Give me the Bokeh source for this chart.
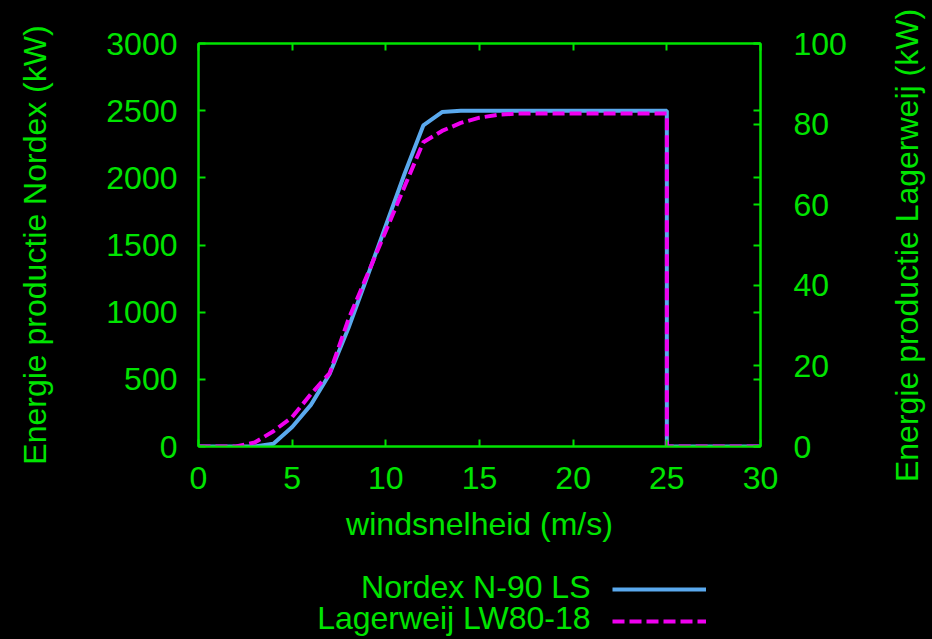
import math
from bokeh.plotting import figure
from bokeh.layouts import row, column
from bokeh.models import (Range1d, LinearAxis, FixedTicker, Legend, LegendItem, Label)
from bokeh.core.properties import value
from bokeh.embed import file_html
from bokeh.resources import INLINE

# ---- data ----
wind = [0, 1, 2, 3, 4, 5, 6, 7, 8, 9, 10, 11, 12, 13, 14, 15, 16, 17, 18, 19, 20,
        21, 22, 23, 24, 25, 25, 30]
nordex = [0, 0, 0, 0, 20, 145, 310, 540, 880, 1260, 1645, 2030, 2390, 2490, 2500,
          2500, 2500, 2500, 2500, 2500, 2500, 2500, 2500, 2500, 2500, 2500, 0, 0]
lagerweij = [0, 0, 0, 1.0, 3.8, 7.3, 13, 18.2, 31.5, 42.5, 53.5, 64.5, 75.5, 78.3,
             80.3, 81.6, 82.3, 82.6, 82.6, 82.6, 82.6, 82.6, 82.6, 82.6, 82.6, 82.6, 0, 0]

x_ticks = [0, 5, 10, 15, 20, 25, 30]
y_ticks = [0, 500, 1000, 1500, 2000, 2500, 3000]
y2_ticks = [0, 20, 40, 60, 80, 100]

series_names = ["Nordex N-90 LS", "Lagerweij LW80-18"]
x_title = "windsnelheid (m/s)"
y_title = "Energie productie Nordex (kW)"
y2_title = "Energie productie Lagerweij (kW)"

GREEN = "#00e400"
BLUE = "#5aa9ee"
MAGENTA = "#f000f0"
FONT = "Liberation Sans"
FS = "32px"

BLUE_STYLE = dict(line_color=BLUE, line_width=4)
MAG_STYLE = dict(line_color=MAGENTA, line_width=4, line_dash="12 5")

# ---------------- main plot ----------------
p = figure(width=880, height=556, output_backend="svg", toolbar_location=None,
           x_range=Range1d(0, 30), y_range=Range1d(0, 3000),
           min_border_left=198, min_border_right=120, min_border_top=43,
           min_border_bottom=110)
p.extra_y_ranges = {"y2": Range1d(0, 100)}
p.background_fill_color = "black"
p.border_fill_color = "black"
p.outline_line_color = GREEN
p.outline_line_width = 2
p.xgrid.visible = False
p.ygrid.visible = False


def style_axis(ax):
    ax.axis_line_color = GREEN
    ax.axis_line_width = 2
    ax.major_tick_line_color = GREEN
    ax.major_tick_line_width = 2
    ax.major_tick_in = 7
    ax.major_tick_out = 0
    ax.minor_tick_line_color = None
    ax.major_label_text_color = GREEN
    ax.major_label_text_font = FONT
    ax.major_label_text_font_size = FS
    ax.axis_label_text_color = GREEN
    ax.axis_label_text_font = FONT
    ax.axis_label_text_font_size = FS
    ax.axis_label_text_font_style = "normal"


xa = p.xaxis[0]
style_axis(xa)
xa.ticker = FixedTicker(ticks=x_ticks)
xa.axis_label = x_title
xa.major_label_standoff = 20
xa.axis_label_standoff = 14

ya = p.yaxis[0]
style_axis(ya)
ya.ticker = FixedTicker(ticks=y_ticks)
ya.axis_label = y_title
ya.major_label_standoff = 21
ya.axis_label_standoff = 50

# top axis: mirrored x ticks, labels not drawn
top = LinearAxis()
style_axis(top)
top.ticker = FixedTicker(ticks=x_ticks)
top.major_label_text_color = None
top.major_label_text_font_size = "1px"
top.major_label_standoff = 0
p.add_layout(top, "above")

# right axis: y2 ticks (labelled) plus mirrored y ticks as unlabelled minor ticks
mirror = [t / y_ticks[-1] * y2_ticks[-1] for t in y_ticks]
ra = LinearAxis(y_range_name="y2")
style_axis(ra)
ra.ticker = FixedTicker(ticks=y2_ticks, minor_ticks=mirror)
ra.minor_tick_line_color = GREEN
ra.minor_tick_line_width = 2
ra.minor_tick_in = 7
ra.minor_tick_out = 0
ra.major_label_standoff = 33
p.add_layout(ra, "right")

p.line(wind, nordex, **BLUE_STYLE)
p.line(wind, lagerweij, y_range_name="y2", **MAG_STYLE)


def blank_fig(w, h, **kw):
    f = figure(width=w, height=h, output_backend="svg", toolbar_location=None,
               x_axis_location=None, y_axis_location=None, min_border=0, **kw)
    f.background_fill_color = "black"
    f.border_fill_color = "black"
    f.outline_line_color = None
    f.xgrid.visible = False
    f.ygrid.visible = False
    if "frame_align" in f.properties():
        f.frame_align = False
    return f


# ---------------- right-axis title strip ----------------
p3 = blank_fig(52, 556)
p3.add_layout(Label(x=26, y=311, x_units="screen", y_units="screen", text=y2_title,
                    angle=math.pi / 2, text_align="center", text_baseline="middle",
                    text_color=GREEN, text_font=FONT, text_font_size=FS))

# ---------------- legend strip (label left of sample, as in the reference) ----------------
p2 = blank_fig(932, 83, x_range=Range1d(-20, -10), y_range=Range1d(-20, -10))
l1 = p2.line(wind, nordex, **BLUE_STYLE)
l2 = p2.line(wind, lagerweij, **MAG_STYLE)
legend = Legend(items=[LegendItem(label=value(" "), renderers=[l1]),
                       LegendItem(label=value(" "), renderers=[l2])],
                location=(612, 2), glyph_width=94, glyph_height=32,
                label_height=32, label_width=0, label_standoff=0, spacing=0,
                padding=0, margin=0, background_fill_alpha=0, border_line_alpha=0,
                label_text_color=None, label_text_font_size="2px")
p2.add_layout(legend, "center")
for name, yy in zip(series_names, [53, 21.5]):
    p2.add_layout(Label(x=590, y=yy, x_units="screen", y_units="screen", text=name,
                        text_align="right", text_baseline="middle",
                        text_color=GREEN, text_font=FONT, text_font_size=FS))

layout = column(row(p, p3, spacing=0), p2, spacing=0)

html = file_html(layout, INLINE)
html = html.replace("</head>", "<style>html,body{background:#000;}</style></head>", 1)
open("out.html", "w").write(html)
